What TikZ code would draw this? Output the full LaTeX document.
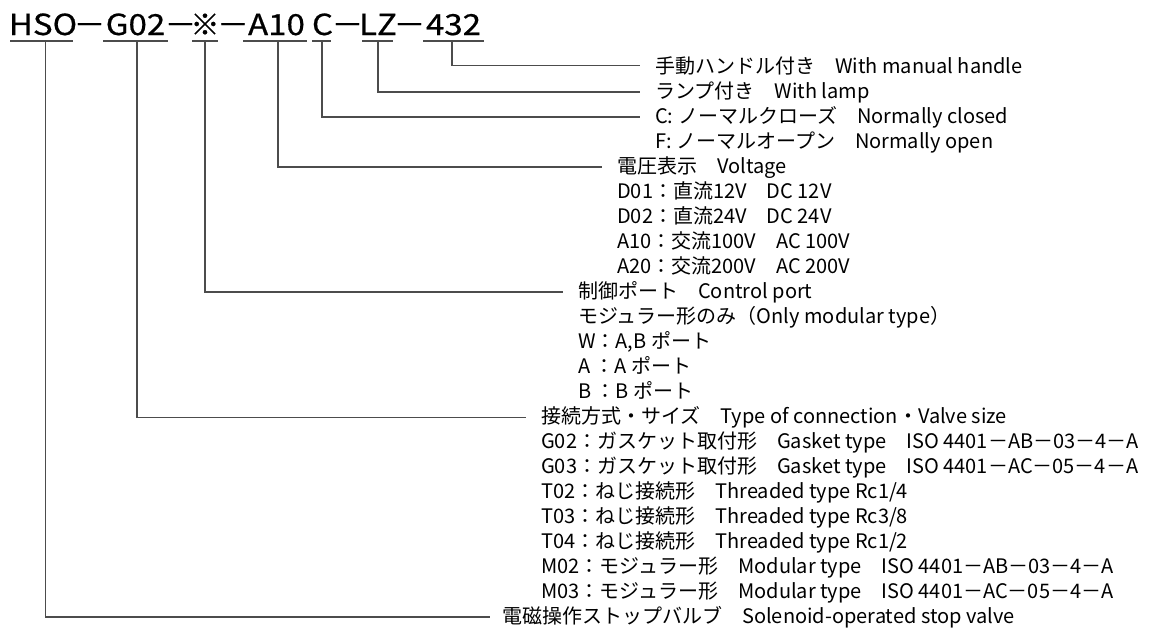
\documentclass[tikz,border=0pt]{standalone}
\usepackage{fontspec}
\setmainfont{Noto Sans CJK JP}
\newfontfamily\codefont{Noto Sans CJK JP}[BoldFont={Noto Sans CJK JP}, BoldFeatures={FakeBold=0.6}]
\newcommand{\wid}[1]{\scalebox{1.14}[1]{#1}}
\newcommand{\dsh}{\scalebox{1.1}[1]{－}}
\begin{document}
\begin{tikzpicture}[x=1pt,y=-1pt,
  codetext/.style={font=\codefont\bfseries\fontsize{29}{29}\selectfont, anchor=base, inner sep=0pt},
  rowtext/.style={font=\fontsize{20}{20}\selectfont, anchor=base west, inner sep=0pt},
  uline/.style={line width=1.5pt, draw=black!70},
  lead/.style={line width=1.5pt, draw=black!70, shorten >=15pt}]
\useasboundingbox (0,0) rectangle (1152,629);
% code parts
\node[codetext] (hso) at (43,35) {\wid{HSO}};
\node[codetext] (d1) at (89.5,35) {\dsh};
\node[codetext] (g02) at (135.5,35) {\wid{G02}};
\node[codetext] (d2) at (180.5,35) {\dsh};
\node[codetext] (ast) at (205,35) {※};
\node[codetext] (d3) at (233,35) {\dsh};
\node[codetext] (a10) at (276.5,35) {\wid{A10}};
\node[codetext] (cc) at (322.5,35) {\wid{C}};
\node[codetext] (d4) at (347.5,35) {\dsh};
\node[codetext] (lz) at (378,35) {\wid{LZ}};
\node[codetext] (d5) at (409.5,35) {\dsh};
\node[codetext] (n432) at (453.5,35) {\wid{432}};
% underlines
\coordinate (hsoL) at (10,41);  \coordinate (hsoR) at (73,41);  \coordinate (hsoM) at (45.5,41);
\coordinate (g02L) at (103,41); \coordinate (g02R) at (168,41); \coordinate (g02M) at (137,41);
\coordinate (astL) at (192,41); \coordinate (astR) at (218,41); \coordinate (astM) at (205,41);
\coordinate (a10L) at (243,41); \coordinate (a10R) at (307,41); \coordinate (a10M) at (278,41);
\coordinate (ccL) at (312,41);  \coordinate (ccR) at (331,41);  \coordinate (ccM) at (322,41);
\coordinate (lzL) at (362,41);  \coordinate (lzR) at (393,41);  \coordinate (lzM) at (378,41);
\coordinate (n432L) at (423,41); \coordinate (n432R) at (484,41); \coordinate (n432M) at (452,41);
\foreach \u in {hso,g02,ast,a10,cc,lz,n432} {\draw[uline] (\u L) -- (\u R);}
% rows
\node[rowtext] (r1) at (655,73) {手動ハンドル付き　With manual handle};
\node[rowtext] (r2) at (655,98) {ランプ付き　With lamp};
\node[rowtext] (r3) at (655,123) {C: ノーマルクローズ　Normally closed};
\node[rowtext] (r4) at (655,148) {F: ノーマルオープン　Normally open};
\node[rowtext] (r5) at (617,173) {電圧表示　Voltage};
\node[rowtext] (r6) at (617,198) {D01：直流12V　DC 12V};
\node[rowtext] (r7) at (617,223) {D02：直流24V　DC 24V};
\node[rowtext] (r8) at (617,248) {A10：交流100V　AC 100V};
\node[rowtext] (r9) at (617,273) {A20：交流200V　AC 200V};
\node[rowtext] (r10) at (578,298) {制御ポート　Control port};
\node[rowtext] (r11) at (578,323.5) {モジュラー形のみ（Only modular type）};
\node[rowtext] (r12) at (578,348.5) {W：A,B ポート};
\node[rowtext] (r13) at (578,373.5) {A ：A ポート};
\node[rowtext] (r14) at (578,398.5) {B ：B ポート};
\node[rowtext] (r15) at (541,423.5) {接続方式・サイズ　Type of connection・Valve size};
\node[rowtext] (r16) at (541,448.5) {G02：ガスケット取付形　Gasket type　ISO 4401－AB－03－4－A};
\node[rowtext] (r17) at (541,473.5) {G03：ガスケット取付形　Gasket type　ISO 4401－AC－05－4－A};
\node[rowtext] (r18) at (541,498.5) {T02：ねじ接続形　Threaded type Rc1/4};
\node[rowtext] (r19) at (541,523.5) {T03：ねじ接続形　Threaded type Rc3/8};
\node[rowtext] (r20) at (541,548.5) {T04：ねじ接続形　Threaded type Rc1/2};
\node[rowtext] (r21) at (541,573.5) {M02：モジュラー形　Modular type　ISO 4401－AB－03－4－A};
\node[rowtext] (r22) at (541,598.5) {M03：モジュラー形　Modular type　ISO 4401－AC－05－4－A};
\node[rowtext] (r23) at (502,623.5) {電磁操作ストップバルブ　Solenoid-operated stop valve};
% leaders
\draw[lead] (n432M) |- (r1.west);
\draw[lead] (lzM) |- (r2.west);
\draw[lead] (ccM) |- (r3.west);
\draw[lead] (a10M) |- (r5.west);
\draw[lead] (astM) |- (r10.west);
\draw[lead] (g02M) |- (r15.west);
\draw[lead, shorten >=12pt] (hsoM) |- (r23.west);
\end{tikzpicture}
\end{document}
